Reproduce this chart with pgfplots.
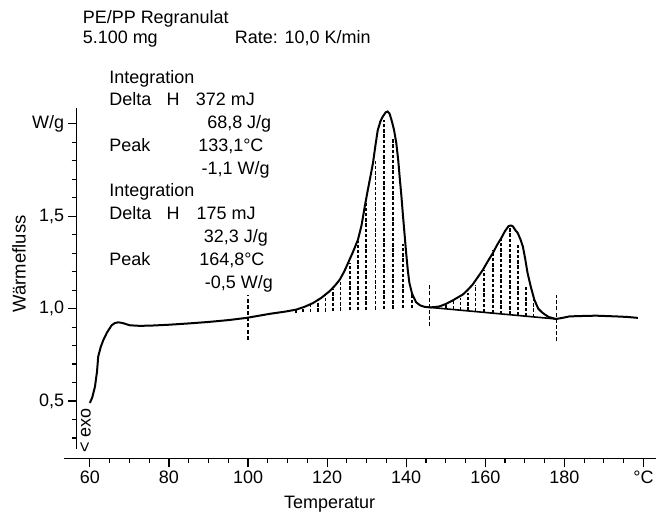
\documentclass[border=0pt]{standalone}
\usepackage{fontspec}
\setmainfont{Liberation Sans}
\usepackage{pgfplots}
\pgfplotsset{compat=1.18}

\begin{document}
\begin{tikzpicture}[font=\fontsize{18}{22}\selectfont]
% 1 px of the reference = 1 pt; axis box: x 76.7..657, y 108..459
\begin{axis}[
    scale only axis, width=580.3pt, height=351pt,
    xmin=56.64, xmax=203.25, ymin=0.1892, ymax=2.0865,
    axis x line=bottom, axis y line=left,
    axis line style={draw=none},
    clip=false,
    xtick={60,80,...,200}, xticklabels={60,80,100,120,140,160,180,°C},
    minor x tick num=3,
    ytick={0.5,1,1.5,2}, yticklabels={{0,5},{1,0},{1,5},W/g},
    minor ytick={0.3,0.4,0.6,0.7,0.8,0.9,1.1,1.2,1.3,1.4,1.6,1.7,1.8,1.9},
    tick align=outside, major tick length=9pt, minor tick length=5pt,
    every tick/.style={black, line width=1.2pt},
    tick label style={font=\fontsize{18}{22}\selectfont},
    unbounded coords=jump,
]
% axis lines: the x line runs on past the y line, the y line stops short of it
\draw[line width=1.5pt] (axis cs:53.4,0.1892) -- (axis cs:203.25,0.1892);
\draw[line width=1.5pt] (axis cs:56.64,0.24) -- (axis cs:56.64,2.0865);
% DSC curve
\addplot[black, line width=2pt] coordinates {
(60.0,0.49)(60.6,0.52)(61.3,0.58)(61.8,0.66)(62.1,0.74)(62.7,0.79)(63.4,0.83)
(64.3,0.87)(65.5,0.91)(66.3,0.922)(67.2,0.926)(68.3,0.922)(70.1,0.910)(72.5,0.907)
(75.2,0.908)(80,0.913)(85,0.920)(90,0.928)(95,0.938)(99.6,0.950)(105.5,0.972)
(109.7,0.985)(112.2,0.995)(114.3,1.010)(116.4,1.030)(118.5,1.058)(120.6,1.094)
(122.0,1.125)(123.2,1.157)(124.3,1.20)(125.3,1.247)(126.6,1.31)(127.8,1.373)
(128.7,1.45)(129.5,1.55)(130.3,1.643)(131.0,1.72)(131.6,1.788)(132.2,1.88)
(132.8,1.965)(133.5,2.015)(134.1,2.04)(134.8,2.062)(135.3,2.067)(135.8,2.055)
(136.3,2.02)(136.9,1.97)(137.5,1.896)(138.0,1.80)(138.4,1.70)(138.8,1.607)
(139.2,1.50)(139.6,1.40)(140.0,1.30)(140.4,1.21)(140.8,1.14)(141.5,1.08)
(142.5,1.035)(143.5,1.018)(144.6,1.010)(145.9,1.007)(147.0,1.008)(148.4,1.012)
(150.0,1.025)(151.8,1.045)(153.0,1.060)(154.3,1.076)(155.5,1.10)(156.8,1.13)
(158.1,1.17)(159.4,1.21)(160.6,1.255)(161.9,1.30)(163.0,1.345)(164.0,1.38)
(165.0,1.42)(165.9,1.447)(166.5,1.450)(167.0,1.445)(167.6,1.425)(168.2,1.41)
(168.9,1.375)(169.5,1.337)(170.1,1.27)(170.7,1.193)(171.5,1.12)(172.4,1.049)
(173.4,1.000)(174.5,0.977)(176.0,0.955)(177.9,0.944)(179.5,0.950)(181.3,0.958)
(184.0,0.960)(188.0,0.962)(193.1,0.958)(196.0,0.955)(198.6,0.950)
};
% baseline of the second peak
\addplot[black, line width=1.6pt] coordinates {(145.9,1.007)(178.0,0.944)};
% integration limits
\addplot[black, line width=1.8pt, dash pattern=on 4pt off 2.2pt] coordinates {
(100,0.832)(100,1.076)(100,nan)
(145.9,0.904)(145.9,1.13)(145.9,nan)
(178.0,0.823)(178.0,1.076)
};
% hatching, first peak
\addplot[black, line width=1.7pt, dash pattern=on 3.4pt off 1.8pt] coordinates {
(112.2,0.978)(112.2,0.995)(112.2,nan)
(113.9,0.980)(113.9,1.004)(113.9,nan)
(115.8,0.981)(115.8,1.020)(115.8,nan)
(117.7,0.983)(117.7,1.048)(117.7,nan)
(119.6,0.984)(119.6,1.076)(119.6,nan)
(121.5,0.986)(121.5,1.105)(121.5,nan)
(123.4,0.988)(123.4,1.162)(123.4,nan)
(125.7,0.990)(125.7,1.247)(125.7,nan)
(127.8,0.991)(127.8,1.364)(127.8,nan)
(129.9,0.993)(129.9,1.59)(129.9,nan)
(132.2,0.995)(132.2,1.80)(132.2,nan)
(134.4,0.997)(134.4,2.02)(134.4,nan)
(136.6,0.999)(136.6,1.92)(136.6,nan)
(139.2,1.001)(139.2,1.35)(139.2,nan)
(141.4,1.003)(141.4,1.086)
};
% hatching, second peak
\addplot[black, line width=1.7pt, dash pattern=on 3.4pt off 1.8pt] coordinates {
(150.1,0.999)(150.1,1.020)(150.1,nan)
(152.0,0.995)(152.0,1.045)(152.0,nan)
(153.7,0.992)(153.7,1.058)(153.7,nan)
(155.6,0.988)(155.6,1.085)(155.6,nan)
(157.5,0.984)(157.5,1.13)(157.5,nan)
(159.6,0.980)(159.6,1.21)(159.6,nan)
(161.9,0.975)(161.9,1.32)(161.9,nan)
(164.0,0.971)(164.0,1.39)(164.0,nan)
(166.3,0.967)(166.3,1.436)(166.3,nan)
(168.2,0.963)(168.2,1.346)(168.2,nan)
(170.3,0.959)(170.3,1.12)(170.3,nan)
(172.2,0.955)(172.2,1.076)
};
\end{axis}
% axis titles
\node at (253.3pt,-46pt) {Temperatur};
\node[rotate=90, font=\fontsize{18.5}{22}\selectfont] at (-57.7pt,194.5pt) {Wärmefluss};
\node[rotate=90] at (8.8pt,28pt) {< exo};
% header
\node[anchor=base west, inner sep=0pt] at (6pt,435.7pt) {PE/PP Regranulat};
\node[anchor=base west, inner sep=0pt] at (6pt,415.7pt) {5.100 mg};
\node[anchor=base west, inner sep=0pt] at (158.3pt,415.7pt) {Rate: 10,0 K/min};
% integration results
\begin{scope}[every node/.style={anchor=base west, inner sep=0pt}]
\node at (32.6pt,375.7pt) {Integration};
\node at (32.6pt,353pt) {Delta};
\node at (90pt,353pt) {H};
\node at (119.3pt,353pt) {372 mJ};
\node at (130.6pt,330.7pt) {68,8 J/g};
\node at (32.6pt,307.3pt) {Peak};
\node at (121.6pt,307.3pt) {133,1°C};
\node at (125pt,284pt) {-1,1 W/g};
\node at (32.6pt,262.3pt) {Integration};
\node at (32.6pt,239pt) {Delta};
\node at (90pt,239pt) {H};
\node at (120pt,239pt) {175 mJ};
\node at (127.3pt,216.3pt) {32,3 J/g};
\node at (32.6pt,193.3pt) {Peak};
\node at (122.6pt,193.3pt) {164,8°C};
\node at (128.3pt,170.5pt) {-0,5 W/g};
\end{scope}
\path[use as bounding box] (-76.7pt,-58pt) rectangle (580.3pt,459pt);
\end{tikzpicture}
\end{document}
